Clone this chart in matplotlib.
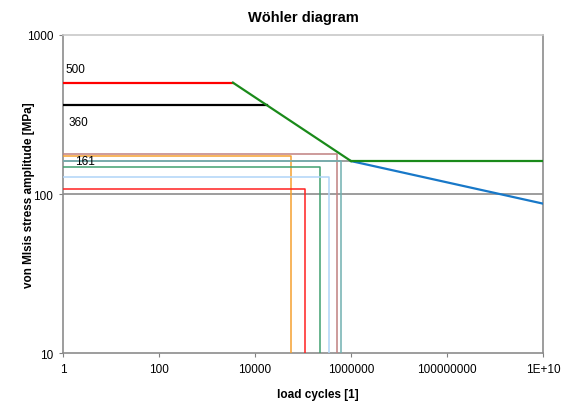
import numpy as np
import matplotlib
matplotlib.use('Agg')
import matplotlib.pyplot as plt

plt.rcParams['font.family'] = ['Liberation Sans', 'DejaVu Sans']

# S-N curve (Woehler line)
sn_cycles = [3470, 17900, 1e6]
sn_stress = [500, 360, 161]
tail_cycles = [1e6, 1e10]
tail_stress = [161, 87]
knee_cycles = [1e6, 1e10]
knee_stress = [161, 161]

# static limits
ult_stress = 500
yield_stress = 360

# load cases: stress amplitude and cycles to failure
case_stress = [178, 172, 160, 148, 127, 107]
case_cycles = [510000, 56000, 620000, 223000, 343000, 110000]
case_colors = ['#c08080', '#f5a030', '#70b0b0', '#40a070', '#b0d4f8', '#ff2020']

ref_lines = [161, 100]

fig = plt.figure(figsize=(5.82, 4.06), dpi=100)
ax = fig.add_axes([63 / 582, 1 - 354.3 / 406, 480 / 582, 318.6 / 406])
ax.set_xscale('log')
ax.set_yscale('log')
ax.set_xlim(1, 1e10)
ax.set_ylim(10, 1000)

for s in ref_lines:
    ax.plot([1, 1e10], [s, s], color='#8c8c8c', linewidth=1.2, zorder=2)

for s, n, c in zip(case_stress, case_cycles, case_colors):
    ax.plot([1, n, n], [s, s, 10], color=c, linewidth=1.1, zorder=3)

ax.plot([1, sn_cycles[0]], [ult_stress, ult_stress], color='#ff0000', linewidth=1.6, zorder=4)
ax.plot([1, sn_cycles[1]], [yield_stress, yield_stress], color='black', linewidth=1.6, zorder=4)
ax.plot(tail_cycles, tail_stress, color='#1878c8', linewidth=1.6, zorder=4)
ax.plot(sn_cycles, sn_stress, color='#1a8a1a', linewidth=1.6, zorder=5)
ax.plot(knee_cycles, knee_stress, color='#1a8a1a', linewidth=1.6, zorder=5)

ax.text(1.15, 605, '500', fontsize=8.5, va='center', ha='left')
ax.text(1.3, 285, '360', fontsize=8.5, va='center', ha='left')
ax.text(1.8, 161, '161', fontsize=8.5, va='center', ha='left', zorder=6)

ax.set_xticks([1, 1e2, 1e4, 1e6, 1e8, 1e10])
ax.set_xticklabels(['1', '100', '10000', '1000000', '100000000', '1E+10'])
ax.set_yticks([10, 100, 1000])
ax.set_yticklabels(['10', '100', '1000'])
ax.minorticks_off()
ax.tick_params(axis='both', labelsize=8.5, length=3, color='#808080', direction='out', pad=4)

for side in ['left', 'bottom', 'right']:
    ax.spines[side].set_color('#8c8c8c')
    ax.spines[side].set_linewidth(1.2)
ax.spines['top'].set_color('#c8c8c8')
ax.spines['top'].set_linewidth(1.2)

ax.set_title('Wöhler diagram', fontsize=10.5, fontweight='bold', pad=10)
fig.text(318 / 582, 1 - 395 / 406, 'load cycles [1]', fontsize=8.5, fontweight='bold',
         ha='center', va='center')
fig.text(29 / 582, 1 - 195 / 406, 'von MIsis stress amplitude [MPa]', fontsize=8.5,
         fontweight='bold', ha='center', va='center', rotation=90)

fig.savefig('out.png', dpi=100)
